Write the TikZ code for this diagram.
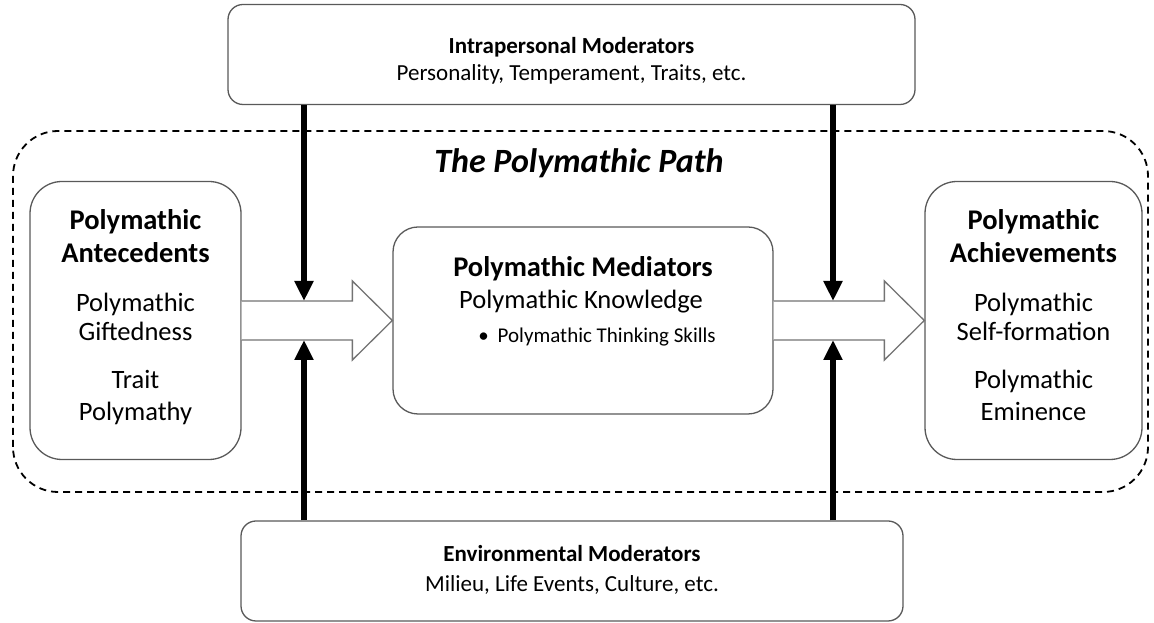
\documentclass[tikz,border=0pt]{standalone}
\usepackage{fontspec}
\setmainfont{Carlito}
\usetikzlibrary{calc, positioning}
\usetikzlibrary{arrows.meta}

\definecolor{boxline}{gray}{0.35}
\definecolor{arrowline}{gray}{0.45}

\begin{document}
\begin{tikzpicture}[x=1pt, y=1pt,
  box/.style={draw=boxline, line width=1.3pt, fill=white, inner sep=0pt},
  headtxt/.style={font=\fontsize{28.5}{34}\selectfont\bfseries, anchor=base, inner sep=0pt},
  bodytxt/.style={font=\fontsize{26.5}{31}\selectfont, anchor=base, inner sep=0pt},
  itemtxt/.style={font=\fontsize{21}{25}\selectfont, anchor=base, inner sep=0pt},
  modhead/.style={font=\fontsize{23}{27}\selectfont\bfseries, anchor=base, inner sep=0pt},
  modtxt/.style={font=\fontsize{23}{27}\selectfont, anchor=base, inner sep=0pt},
  blockarrow/.style={draw=arrowline, line width=1.3pt, fill=white, line join=miter},
  modarrow/.style={line width=6pt, -{Triangle[length=20pt, width=18pt]}}
]
\def\shaft{19.5}
\def\headw{39.5}
\def\headl{40}
\def\pinl{304}
\def\pinr{833}

\useasboundingbox (0,0) rectangle (1154,623);

% dashed frame around the path
\draw[dash pattern=on 7pt off 5pt, line width=1.8pt, rounded corners=45pt] (13,131) rectangle (1148,492);
\node[font=\fontsize{34}{40}\selectfont\bfseries\itshape, anchor=base, inner sep=0pt] (title) at (579,450) {The Polymathic Path};

% boxes
\node[box, rounded corners=15pt, minimum width=687pt, minimum height=100pt] (intra) at (571.5,568.5) {};
\node[box, rounded corners=15pt, minimum width=662pt, minimum height=100pt] (env) at (572,52) {};
\node[box, rounded corners=32pt, minimum width=211pt, minimum height=278pt] (ante) at (135.5,302.5) {};
\node[box, rounded corners=25pt, minimum width=380pt, minimum height=187pt] (med) at (583,302.5) {};
\node[box, rounded corners=32pt, minimum width=217pt, minimum height=278pt] (achv) at (1033.5,302.5) {};

% moderators
\node[modhead] (intra-h) at ($(intra.north)+(0,-49.5)$) {Intrapersonal Moderators};
\node[modtxt] (intra-b) at ($(intra.north)+(0,-76.5)$) {Personality, Temperament, Traits, etc.};
\node[modhead] (env-h) at ($(env.north)+(0,-41)$) {Environmental Moderators};
\node[modtxt] (env-b) at ($(env.north)+(0,-71)$) {Milieu, Life Events, Culture, etc.};

% antecedents
\foreach \i/\txt/\dy in {1/Polymathic/49, 2/Antecedents/82}
  \node[headtxt] (ante-h\i) at ($(ante.north)+(0,-\dy)$) {\txt};
\foreach \i/\txt/\dy in {1/Polymathic/131, 2/Giftedness/160, 3/Trait/208, 4/Polymathy/240}
  \node[bodytxt] (ante-b\i) at ($(ante.north)+(0,-\dy)$) {\txt};

% mediators
\node[headtxt] (med-h) at ($(med.north)+(0,-50)$) {Polymathic Mediators};
\node[bodytxt] (med-b1) at ($(med.north)+(-2,-82)$) {Polymathic Knowledge};
\node[itemtxt] (med-b2) at ($(med.north)+(14,-116)$) {\textbullet\hspace{9pt}Polymathic Thinking Skills};

% achievements
\foreach \i/\txt/\dy in {1/Polymathic/49, 2/Achievements/82}
  \node[headtxt] (achv-h\i) at ($(achv.north)+(0,-\dy)$) {\txt};
\foreach \i/\txt/\dy in {1/Polymathic/131, 2/Self-formation/160, 3/Polymathic/208, 4/Eminence/240}
  \node[bodytxt] (achv-b\i) at ($(achv.north)+(0,-\dy)$) {\txt};

% block arrows between the stages
\draw[blockarrow] ($(ante.east)+(0,\shaft)$) -- ($(med.west)+(-\headl,\shaft)$)
  -- ($(med.west)+(-\headl,\headw)$) -- (med.west) -- ($(med.west)+(-\headl,-\headw)$)
  -- ($(med.west)+(-\headl,-\shaft)$) -- ($(ante.east)+(0,-\shaft)$);
\draw[blockarrow] ($(med.east)+(0,\shaft)$) -- ($(achv.west)+(-\headl,\shaft)$)
  -- ($(achv.west)+(-\headl,\headw)$) -- (achv.west) -- ($(achv.west)+(-\headl,-\headw)$)
  -- ($(achv.west)+(-\headl,-\shaft)$) -- ($(med.east)+(0,-\shaft)$);

% moderator arrows
\coordinate (dl) at (\pinl,{302.5+\shaft});
\coordinate (ul) at (\pinl,{302.5-\shaft});
\coordinate (dr) at (\pinr,{302.5+\shaft});
\coordinate (ur) at (\pinr,{302.5-\shaft});
\draw[modarrow] (intra.south -| dl) -- (dl);
\draw[modarrow] (env.north -| ul) -- (ul);
\draw[modarrow] (intra.south -| dr) -- (dr);
\draw[modarrow] (env.north -| ur) -- (ur);
\end{tikzpicture}
\end{document}
